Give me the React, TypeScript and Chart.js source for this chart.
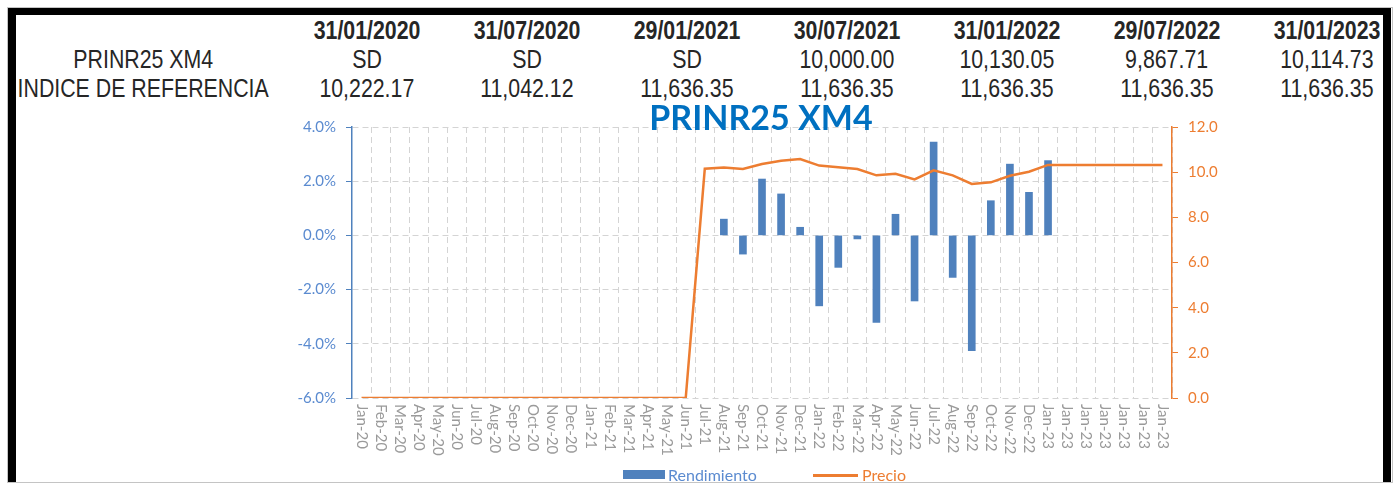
import React, { useEffect, useRef } from "react";
import { Chart, registerables } from "chart.js";

Chart.register(...registerables);

const categories = [
  "Jan-20", "Feb-20", "Mar-20", "Apr-20", "May-20", "Jun-20", "Jul-20", "Aug-20", "Sep-20", "Oct-20", "Nov-20", "Dec-20",
  "Jan-21", "Feb-21", "Mar-21", "Apr-21", "May-21", "Jun-21", "Jul-21", "Aug-21", "Sep-21", "Oct-21", "Nov-21", "Dec-21",
  "Jan-22", "Feb-22", "Mar-22", "Apr-22", "May-22", "Jun-22", "Jul-22", "Aug-22", "Sep-22", "Oct-22", "Nov-22", "Dec-22",
  "Jan-23", "Jan-23", "Jan-23", "Jan-23", "Jan-23", "Jan-23", "Jan-23",
];

// Rendimiento (%), left axis
const rendimiento: (number | null)[] = [
  null, null, null, null, null, null, null, null, null, null, null, null,
  null, null, null, null, null, null, null, 0.6, -0.69, 2.08, 1.53, 0.3,
  -2.6, -1.18, -0.13, -3.21, 0.78, -2.42, 3.44, -1.55, -4.25, 1.28, 2.63, 1.59,
  2.76, null, null, null, null, null, null,
];

// Precio, right axis
const precio: number[] = [
  0, 0, 0, 0, 0, 0, 0, 0, 0, 0, 0, 0,
  0, 0, 0, 0, 0, 0, 10.15, 10.21, 10.14, 10.36, 10.51, 10.58,
  10.29, 10.22, 10.14, 9.86, 9.93, 9.68, 10.08, 9.86, 9.48, 9.55, 9.84, 10.02,
  10.32, 10.32, 10.32, 10.32, 10.32, 10.32, 10.32,
];

const tableDates = ["31/01/2020", "31/07/2020", "29/01/2021", "30/07/2021", "31/01/2022", "29/07/2022", "31/01/2023"];
const tableFund = ["SD", "SD", "SD", "10,000.00", "10,130.05", "9,867.71", "10,114.73"];
const tableIndex = ["10,222.17", "11,042.12", "11,636.35", "11,636.35", "11,636.35", "11,636.35", "11,636.35"];
const rowLabels = ["PRINR25 XM4", "INDICE DE REFERENCIA"];
const chartTitle = "PRINR25 XM4";
const seriesNames = ["Rendimiento", "Precio"];

const BLUE = "#4f81bd";
const ORANGE = "#ED7D31";

const titlePlugin = {
  id: "customTitle",
  afterDraw(chart: any) {
    const { ctx, chartArea } = chart;
    ctx.save();
    ctx.font = "bold 34px Lato";
    ctx.fillStyle = "#0070C0";
    ctx.textAlign = "center";
    ctx.textBaseline = "alphabetic";
    ctx.fillText(chartTitle, (chartArea.left + chartArea.right) / 2 - 1, chartArea.top + 3);
    ctx.restore();
  },
};

const xLabelPlugin = {
  id: "xLabelsDown",
  afterDraw(chart: any) {
    const { ctx, chartArea } = chart;
    const xs = chart.scales.x;
    ctx.save();
    ctx.font = "15px Lato";
    ctx.fillStyle = "#9a9a9a";
    ctx.textAlign = "left";
    ctx.textBaseline = "middle";
    (chart.data.labels as string[]).forEach((lab, i) => {
      const x = xs.getPixelForTick(i);
      ctx.save();
      ctx.translate(x, chartArea.bottom + 6);
      ctx.rotate(Math.PI / 2);
      ctx.fillText(String(lab), 0, 0);
      ctx.restore();
    });
    ctx.restore();
  },
};

function ChartCanvas() {
  const ref = useRef<HTMLCanvasElement | null>(null);
  useEffect(() => {
    if (!ref.current) return;
    const chart = new Chart(ref.current, {
      type: "bar",
      data: {
        labels: categories,
        datasets: [
          {
            type: "line",
            label: seriesNames[1],
            data: precio,
            yAxisID: "y1",
            borderColor: ORANGE,
            backgroundColor: ORANGE,
            borderWidth: 2.5,
            pointRadius: 0,
            tension: 0,
            order: 0,
          } as any,
          {
            type: "bar",
            label: seriesNames[0],
            data: rendimiento,
            yAxisID: "y",
            backgroundColor: BLUE,
            barThickness: 7,
            order: 1,
          } as any,
        ],
      },
      options: {
        animation: false,
        responsive: false,
        devicePixelRatio: 1,
        layout: { padding: { top: 27, left: 0, right: 0, bottom: 0 } },
        plugins: {
          legend: { display: false },
          tooltip: { enabled: false },
          title: { display: false },
        },
        scales: {
          x: {
            type: "category",
            offset: true,
            ticks: { display: false },
            grid: { offset: true, color: "#d4d4d4", lineWidth: 1, drawTicks: false },
            border: { display: false, dash: [6, 4] },
            afterFit: (s: any) => {
              s.height = 70;
            },
          },
          y: {
            position: "left",
            min: -6,
            max: 4,
            ticks: {
              stepSize: 2,
              callback: (v: any) => Number(v).toFixed(1) + "%",
              color: "#5b8bd0",
              font: { family: "Lato", size: 15 },
              padding: 10,
            },
            grid: { color: "#d4d4d4", lineWidth: 1, tickColor: BLUE, tickLength: 6, tickBorderDash: [] },
            border: { display: true, color: BLUE, width: 1.5, dash: [6, 4] },
            afterFit: (s: any) => {
              s.width = 72;
            },
          },
          y1: {
            position: "right",
            min: 0,
            max: 12,
            ticks: {
              stepSize: 2,
              callback: (v: any) => Number(v).toFixed(1),
              color: ORANGE,
              font: { family: "Lato", size: 15 },
              padding: 10,
            },
            grid: { drawOnChartArea: false, color: ORANGE, tickColor: ORANGE, tickLength: 6, tickBorderDash: [] },
            border: { display: true, color: ORANGE, width: 1.5 },
            afterFit: (s: any) => {
              s.width = 88;
            },
          },
        },
      } as any,
      plugins: [titlePlugin, xLabelPlugin],
    });
    return () => chart.destroy();
  }, []);
  return (
    <canvas
      ref={ref}
      width={980}
      height={368}
      style={{ position: "absolute", left: 280, top: 100, width: 980, height: 368 }}
    />
  );
}

const tableFont: React.CSSProperties = {
  fontFamily: "'Liberation Sans', Arial, sans-serif",
  fontSize: 26,
  lineHeight: "26px",
  color: "#262626",
  whiteSpace: "nowrap",
};

function Cell({ cx, top, text, bold }: { cx: number; top: number; text: string; bold?: boolean }) {
  return (
    <div
      style={{
        ...tableFont,
        position: "absolute",
        left: cx - 200,
        width: 400,
        top,
        textAlign: "center",
        fontWeight: bold ? "bold" : "normal",
      }}
    >
      <span style={{ display: "inline-block", transform: "scaleX(0.82)", transformOrigin: "center" }}>{text}</span>
    </div>
  );
}

export default function App() {
  const colCenters = tableDates.map((_, i) => 367 + 160 * i);
  return (
    <div
      style={{
        position: "fixed",
        left: 0,
        top: 0,
        width: 1394,
        height: 484,
        background: "#ffffff",
        overflow: "hidden",
      }}
    >
      {/* table */}
      {tableDates.map((d, i) => (
        <Cell key={"d" + i} cx={colCenters[i]} top={17} text={d} bold />
      ))}
      <Cell cx={143} top={46} text={rowLabels[0]} />
      <Cell cx={143} top={75} text={rowLabels[1]} />
      {tableFund.map((d, i) => (
        <Cell key={"f" + i} cx={colCenters[i]} top={46} text={d} />
      ))}
      {tableIndex.map((d, i) => (
        <Cell key={"x" + i} cx={colCenters[i]} top={75} text={d} />
      ))}

      <ChartCanvas />

      {/* legend */}
      <div style={{ position: "absolute", left: 623, top: 470, width: 42, height: 9, background: BLUE }} />
      <div
        style={{
          position: "absolute",
          left: 668,
          top: 467,
          fontFamily: "Lato",
          fontSize: 16,
          lineHeight: "16px",
          color: "#5b8bd0",
          whiteSpace: "nowrap",
        }}
      >
        {seriesNames[0]}
      </div>
      <div style={{ position: "absolute", left: 813, top: 474, width: 45, height: 3, background: ORANGE }} />
      <div
        style={{
          position: "absolute",
          left: 862,
          top: 467,
          fontFamily: "Lato",
          fontSize: 16,
          lineHeight: "16px",
          color: ORANGE,
          whiteSpace: "nowrap",
        }}
      >
        {seriesNames[1]}
      </div>

      {/* frame */}
      <div style={{ position: "absolute", left: 0, top: 482, width: 1394, height: 2, background: "#ffffff" }} />
      <div style={{ position: "absolute", left: 7, top: 7, width: 1386, height: 476, border: "1px solid #c4c4c4", boxSizing: "border-box" }} />
      <div style={{ position: "absolute", left: 8, top: 8, width: 1376, height: 7, background: "#000" }} />
      <div style={{ position: "absolute", left: 8, top: 8, width: 8, height: 474, background: "#000" }} />
      <div style={{ position: "absolute", left: 1383, top: 8, width: 8, height: 474, background: "#000" }} />
    </div>
  );
}
